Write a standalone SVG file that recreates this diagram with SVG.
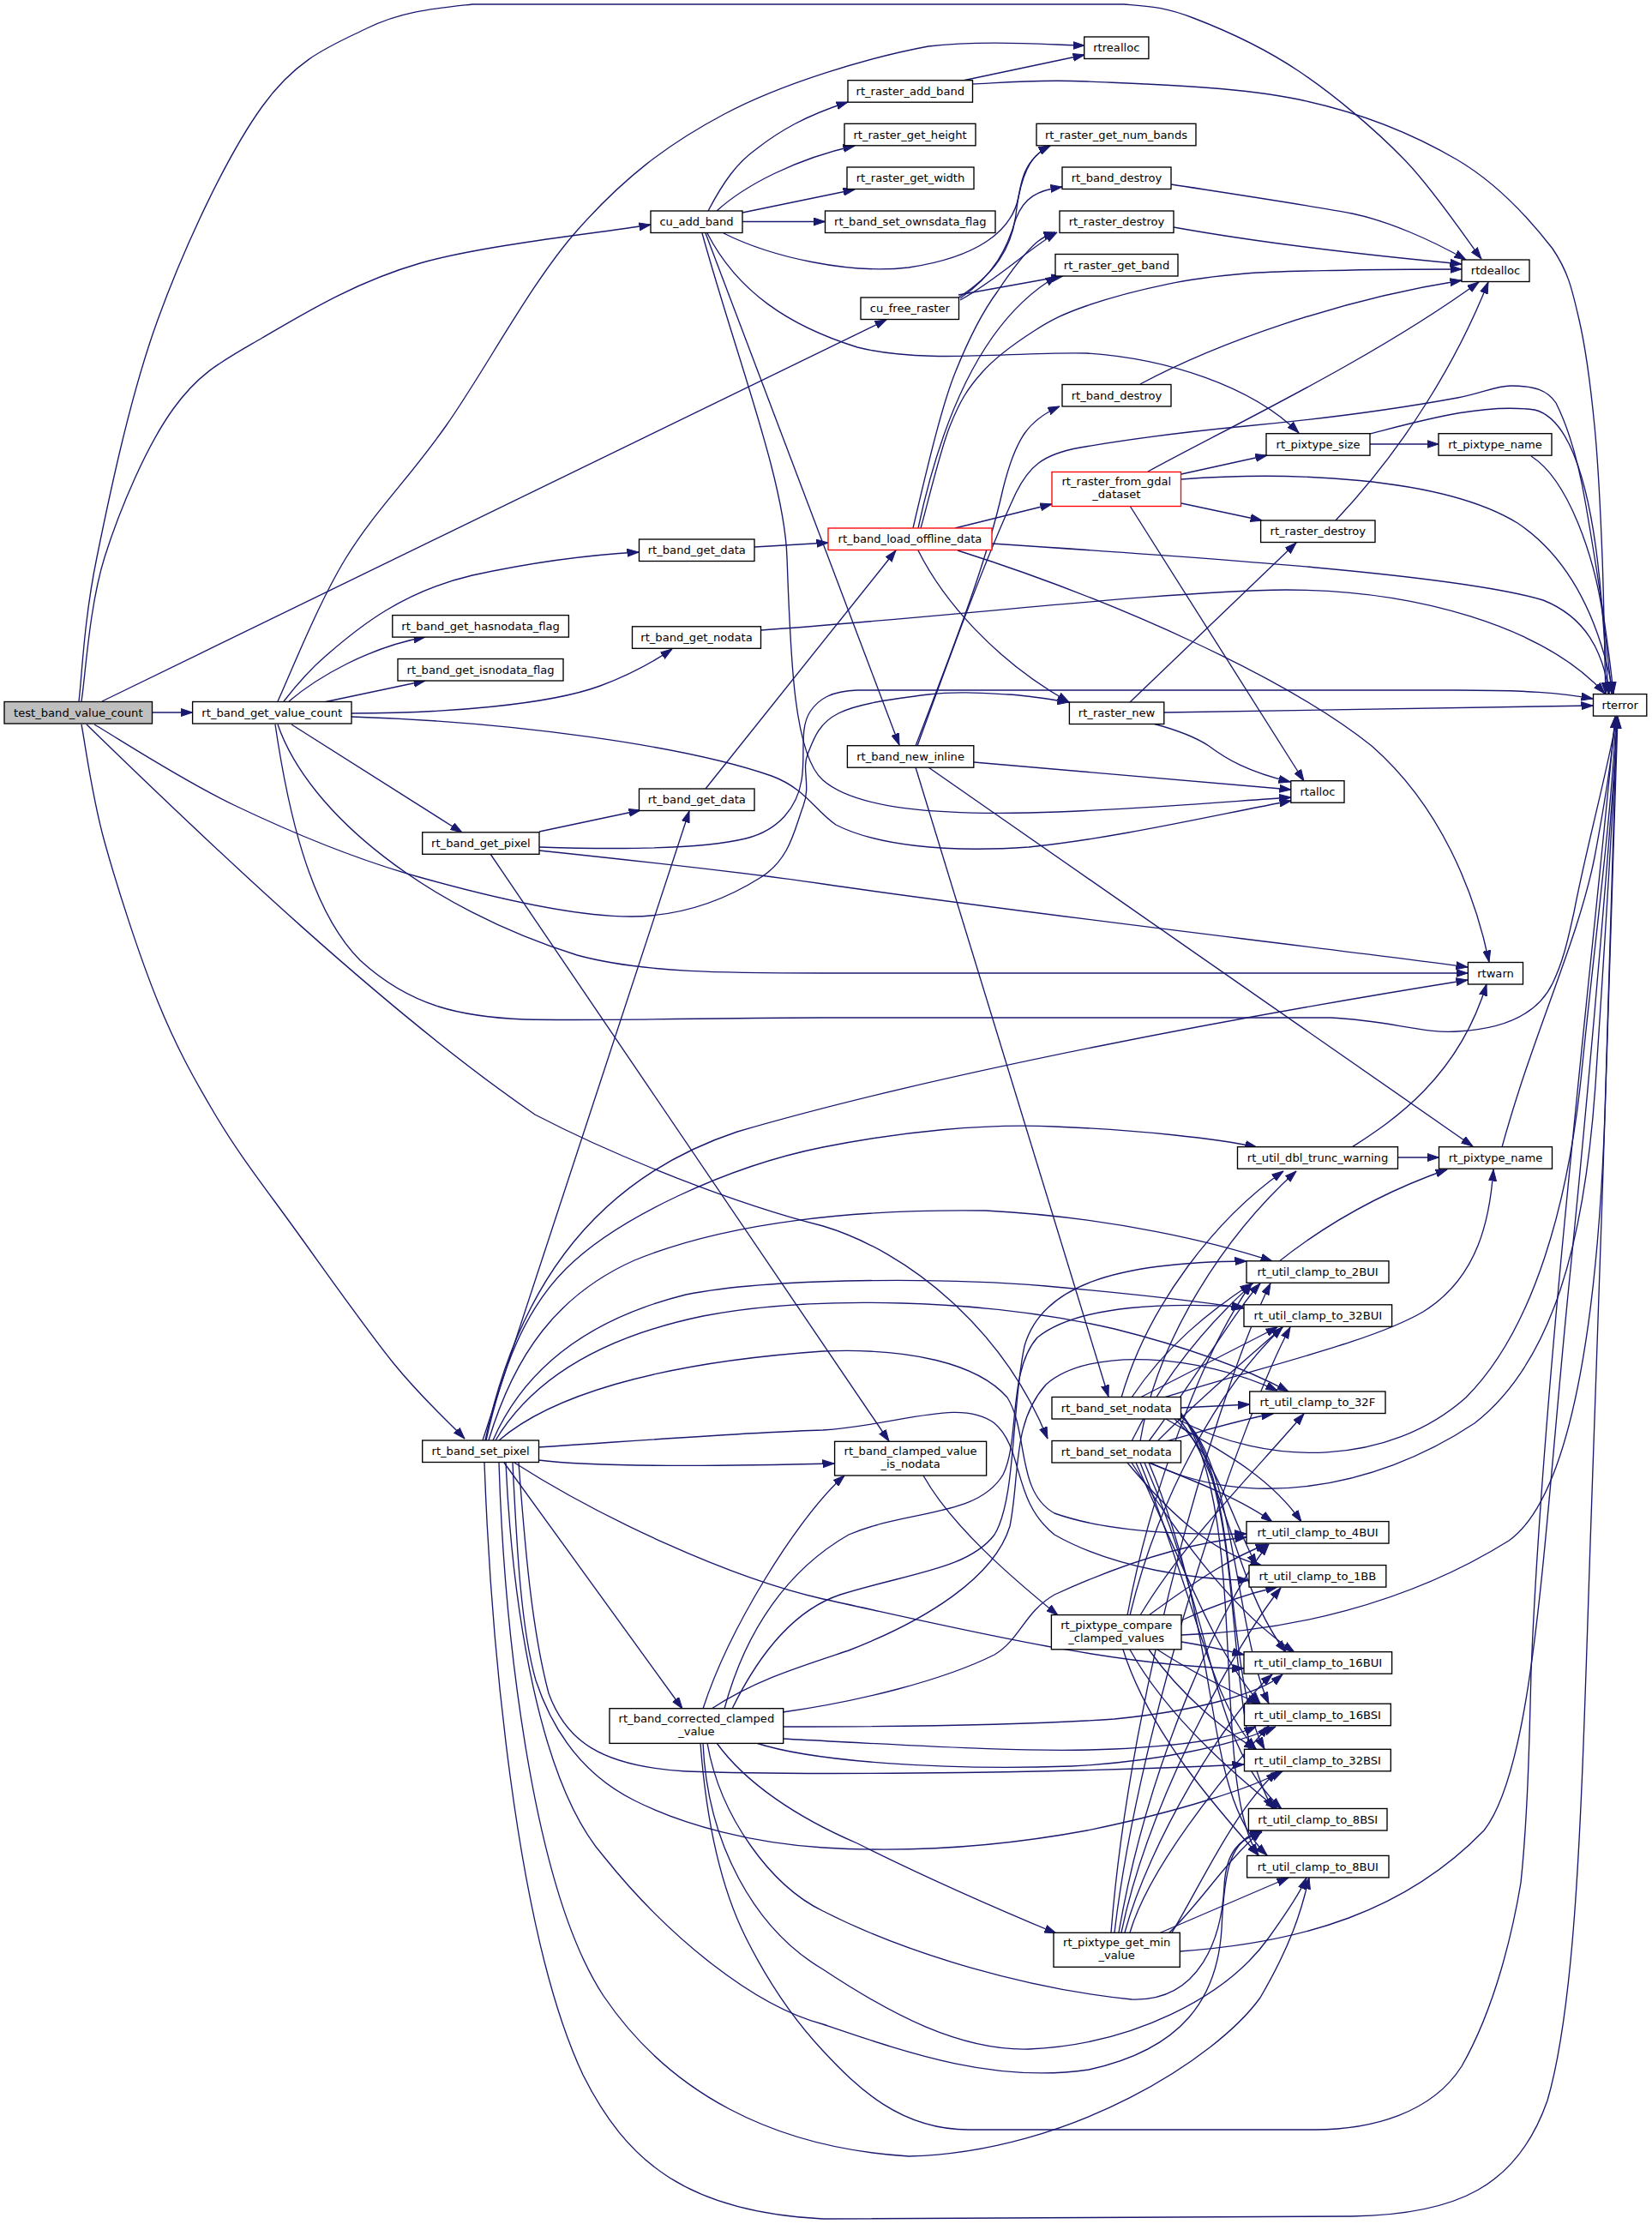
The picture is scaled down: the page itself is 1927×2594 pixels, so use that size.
<svg xmlns="http://www.w3.org/2000/svg" width="1927" height="2594" viewBox="0 0 1927 2594">
<style>
.n rect { fill:#ffffff; stroke:#000000; stroke-width:1.35; }
.n text { font-family:"DejaVu Sans","Liberation Sans",sans-serif; font-size:13.1px; text-anchor:middle; fill:#000000; }
.red rect { stroke:#ff0000; }
.root rect { fill:#bfbfbf; }
.e path { fill:none; stroke:#191970; stroke-width:1.35; marker-end:url(#arr); }
</style>
<defs>
<marker id="arr" markerUnits="userSpaceOnUse" markerWidth="14" markerHeight="10" viewBox="0 0 14 10" refX="13.5" refY="5" orient="auto">
<path d="M0,0.5 L13.5,5 L0,9.5 Z" fill="#191970" stroke="#191970" stroke-width="1"/>
</marker>
</defs>
<rect x="0" y="0" width="1927" height="2594" fill="#ffffff"/>
<g id="connectors" class="e">
<path d="M92,818 C95.5,790 97.7,724 113,650 C128,576 152,461 184,373 C216,285 265,181 306,124 C347,67 387,53 428,33 C469,13 506,10 551,5 L1311,5 C1343,7.7 1358,8 1392,21 C1426,34 1474,55.5 1515,83 C1556,110.5 1602.5,149.5 1638,186 C1673.5,222.5 1713,282.7 1728,302"/>
<path d="M95,818 C99.5,790 104,707 122,650 C140,593 171,520 202,477 C233,434 258,422 306,394 C354,366 414,329 490,307 C566,285 714,270 759,262"/>
<path d="M119,818 L1034,373"/>
<path d="M177.5,831 L224.6,831"/>
<path d="M95,845 C99.5,868 107,928 122,982 C137,1036 162.5,1115 184,1168 C205.5,1221 225.5,1257 251,1300 C276.5,1343 302,1376 337,1424 C372,1472 425,1548 459,1590 C493,1632 528,1663 542,1678"/>
<path d="M110,845 C137.5,861 212,910 275,940 C338,970 412,1001.5 489,1023 C566,1044.5 668.5,1069 735,1069 C801.5,1069 854,1044.5 888,1023 C922,1001.5 927,966 937,940 C946,916 935,898 942,880 C949,862 954.5,844 978,832 C1001.5,820 1050,814 1083,810 C1116,806 1149,808.5 1176,810 C1203,811.5 1235,817.5 1247,819"/>
<path d="M101,845 C250,990 450,1180 624,1300 C720,1350 860,1405 960,1430 C1060,1460 1170,1550 1222,1678"/>
<path d="M324,818 C337,790 371,703.5 404,650 C437,596.5 475,560.5 520,497 C565,433.5 619,330 673,269 C727,208 777,169 845,133 C913,97 1013,67 1083,54 C1150,46 1235,53 1265,53"/>
<path d="M331,818 C345,800 360,782 380,765 C420,730 470,690 551,671 C620,656 690,647 745,644"/>
<path d="M337,818 C370,790 430,755 496,743"/>
<path d="M380,818.5 L496,794"/>
<path d="M410,832 C520,832 640,822 700,800 C740,785 765,770 784,757"/>
<path d="M410,836 C600,842 800,870 900,905 C940,920 950,945 975,962 C1020,985 1100,995 1200,988 C1300,978 1420,950 1506,934"/>
<path d="M340,845 L539,971"/>
<path d="M324,845 C360,950 500,1060 673,1114 C750,1135 850,1135 960,1135 L1712,1135"/>
<path d="M321,845 C335,940 360,1060 420,1120 C480,1175 540,1186 612,1189 C700,1191 850,1187 960,1187 L1552,1187 C1620,1190 1660,1206 1700,1203 C1760,1200 1795,1180 1811,1147 C1825,1118 1830,1090 1836,1064 C1850,990 1875,900 1886,836"/>
<path d="M826,246 C845,210 860,190 882,174 C910,152 940,135 989,119"/>
<path d="M836,246 C870,215 930,185 997,170"/>
<path d="M866,248 L997,221"/>
<path d="M866,258.5 L962.5,258.5"/>
<path d="M844,272 C900,300 990,320 1060,312 C1140,300 1180,270 1188,230 C1195,195 1205,180 1225,170"/>
<path d="M825,272 C860,340 920,380 1000,405 C1080,425 1180,410 1268,412 C1360,418 1460,450 1515,505"/>
<path d="M823,272 L1049,869"/>
<path d="M819,272 C860,420 915,560 918,650 C922,760 925,880 960,910 C1000,945 1100,950 1200,948 C1320,945 1430,935 1506,930"/>
<path d="M1118,347 C1160,320 1180,290 1185,250 C1190,210 1195,185 1225,170"/>
<path d="M1120,348 C1160,320 1175,290 1185,255 C1195,230 1210,222 1239,218"/>
<path d="M1120,350 C1165,325 1200,290 1233,271"/>
<path d="M1118,344 L1240,322"/>
<path d="M1123,94 L1265,64"/>
<path d="M1134,98 C1156,97.5 1204.5,92 1268,95 C1331.5,98 1443,100.7 1515,116 C1587,131 1650.7,157.5 1700,186.5 C1749,215.5 1787,259 1811,290 C1830,318 1834,339 1842,373 C1850,407.5 1855.5,451 1860,497 C1864.5,543 1867,598 1869,650 C1871,702 1872,782.5 1873,809"/>
<path d="M1366,215 C1450,228 1530,240 1577,249 C1620,258 1670,280 1710,303"/>
<path d="M1369,265 C1480,285 1620,300 1705,308"/>
<path d="M1074,616 C1080,596 1096,527 1108,497 C1120,467 1128.5,453.6 1145,435 C1161.5,416 1186.5,398.6 1207,385.5 C1227.5,372.4 1242,365.5 1268,356.5 C1294,347.5 1330,338 1361,331.6 C1392,325 1417,322 1453,319 C1489,316 1535,316 1577,315 C1619,314 1684,314 1705,314"/>
<path d="M1065,616 C1085,530 1100,470 1114,435 C1130,395 1145,365 1163.5,340 C1180,315 1195,295 1210,282 C1218,276 1224,273 1231,271"/>
<path d="M1071,616 C1100,480 1150,370 1233,322"/>
<path d="M1114,616 L1227,588"/>
<path d="M1157,634 C1400,650 1700,670 1800,700 C1850,720 1870,760 1877,809"/>
<path d="M1117,642 C1300,700 1500,790 1600,870 C1680,940 1720,1040 1737,1122"/>
<path d="M1071,642 C1100,700 1160,770 1247,819"/>
<path d="M880,638 L966,633"/>
<path d="M823,920 L1045,642"/>
<path d="M1378,553 L1478,531"/>
<path d="M1339,550 C1430,500 1600,420 1725,329"/>
<path d="M1378,587 L1472,607"/>
<path d="M1378,559 C1500,550 1680,555 1770,610 C1830,650 1865,720 1882,809"/>
<path d="M1318,590 L1521,911"/>
<path d="M1330,448 C1420,400 1560,350 1705,327"/>
<path d="M1558,607 C1640,520 1700,420 1736,329"/>
<path d="M1598,518 L1678,518"/>
<path d="M1598,506 C1660,490 1730,470 1790,478 C1840,490 1860,600 1868,700 C1872,750 1875,790 1876,809"/>
<path d="M1786,532 C1830,560 1860,650 1870,720 C1875,760 1878,790 1880,809"/>
<path d="M1068,870 C1110,760 1150,660 1170,570 C1185,510 1200,490 1236,474"/>
<path d="M1070,870 C1110,760 1150,650 1185,575 C1200,545 1215,530 1260,522 C1330,510 1390,503 1453,497 C1560,487 1640,475 1700,464 C1730,458 1745,450 1762,450 C1790,450 1805,455 1815,470 C1835,510 1845,560 1850,590 C1862,660 1875,740 1882,809"/>
<path d="M1136,889 L1506,921"/>
<path d="M1083,895 L1718,1337"/>
<path d="M1068,895 L1293,1629"/>
<path d="M1358,831 L1858,823"/>
<path d="M1345,844 C1375,852 1395,860 1410,870 C1430,885 1455,900 1505,912"/>
<path d="M1318,819 L1512,633"/>
<path d="M888,735 C1100,720 1350,690 1500,688 C1650,688 1800,730 1872,809"/>
<path d="M629,970 L747,945"/>
<path d="M629,988 C720,991 820,990 870,978 C910,968 930,940 935,910 C940,880 932,850 945,830 C955,815 970,806 1000,805 L1700,805 C1780,805 1820,808 1858,815"/>
<path d="M629,992 C800,1010 900,1022 960,1031 C1200,1066 1500,1100 1712,1128"/>
<path d="M572,996 L1037,1681"/>
<path d="M563,1680 L804,946"/>
<path d="M566,1680 C600,1520 680,1380 860,1320 C1100,1250 1450,1185 1712,1143"/>
<path d="M567,1680 C585,1600 610,1530 660,1480 C720,1420 850,1360 960,1338 C1050,1320 1150,1310 1230,1314 C1330,1318 1420,1328 1466,1338"/>
<path d="M570,1680 C600,1580 650,1510 740,1470 C850,1425 1000,1410 1150,1412 C1300,1420 1420,1450 1484,1471"/>
<path d="M575,1680 C610,1600 680,1540 800,1510 C900,1490 1100,1490 1220,1500 C1330,1510 1400,1518 1451,1526"/>
<path d="M578,1680 C620,1610 700,1560 820,1535 C950,1510 1150,1515 1300,1550 C1400,1575 1460,1600 1503,1623"/>
<path d="M582,1680 C640,1630 760,1590 960,1576 C1060,1572 1140,1590 1175,1630 C1200,1670 1185,1740 1230,1765 C1300,1790 1400,1790 1454,1789"/>
<path d="M628,1688 C750,1680 880,1670 960,1668 C1050,1662 1120,1630 1160,1660 C1195,1690 1180,1750 1230,1790 C1300,1830 1400,1843 1457,1843"/>
<path d="M628,1703 C700,1712 850,1710 973,1707"/>
<path d="M600,1706 C700,1770 850,1840 960,1865 C1100,1895 1300,1945 1451,1946"/>
<path d="M588,1706 L796,1993"/>
<path d="M605,1706 C612,1800 620,1900 640,1975 C660,2030 700,2060 800,2066 C900,2070 1200,2070 1451,2058"/>
<path d="M598,1706 C603,1810 608,1900 625,1960 C645,2020 680,2070 740,2100 C800,2130 880,2150 960,2155 C1060,2161 1160,2155 1268,2135 C1380,2112 1460,2085 1496,2066"/>
<path d="M590,1706 C598,1880 630,2080 704,2165 C780,2260 880,2340 960,2361 C1060,2395 1160,2430 1270,2414 C1380,2390 1420,2330 1425,2250 C1428,2180 1435,2145 1472,2135"/>
<path d="M582,1706 C588,1900 620,2200 704,2328 C780,2440 900,2505 1060,2515 C1250,2510 1420,2400 1470,2330 C1505,2270 1518,2230 1527,2190"/>
<path d="M565,1706 C572,1900 600,2250 680,2420 C730,2520 800,2580 960,2588 L1577,2585 C1700,2583 1770,2550 1805,2450 C1840,2330 1845,2100 1855,1800 C1865,1500 1880,1100 1887,836"/>
<path d="M820,1993 C850,1900 930,1770 985,1721"/>
<path d="M854,1993 C880,1940 920,1880 980,1860 C1060,1835 1130,1830 1160,1790 C1185,1750 1180,1640 1195,1570 C1215,1500 1300,1472 1454,1471"/>
<path d="M845,1993 C870,1900 920,1830 990,1790 C1060,1760 1140,1770 1170,1720 C1190,1680 1175,1600 1210,1560 C1260,1520 1370,1520 1450,1524"/>
<path d="M830,1993 C880,1960 930,1945 990,1925 C1080,1890 1160,1840 1178,1780 C1190,1720 1180,1660 1220,1615 C1270,1570 1400,1580 1490,1622"/>
<path d="M913,1997 C1000,1985 1100,1960 1160,1930 C1190,1912 1195,1880 1230,1860 C1300,1828 1380,1800 1454,1793"/>
<path d="M913,2014 C1050,2014 1200,2012 1300,2005 C1400,1995 1470,1975 1496,1953"/>
<path d="M913,2028 C1050,2035 1200,2045 1300,2040 C1400,2035 1440,2025 1465,2014"/>
<path d="M882,2033 C950,2055 1100,2065 1250,2060 C1350,2055 1440,2035 1488,2014"/>
<path d="M836,2033 C870,2080 930,2120 1000,2150 C1080,2190 1160,2225 1232,2255"/>
<path d="M825,2033 C840,2120 900,2200 960,2229 C1060,2280 1200,2320 1320,2332 C1400,2335 1425,2260 1428,2200 C1430,2160 1445,2145 1472,2137"/>
<path d="M820,2033 C825,2150 880,2250 960,2297 C1040,2350 1120,2392 1200,2390 C1320,2385 1430,2330 1480,2260 C1505,2225 1518,2205 1524,2190"/>
<path d="M817,2033 C822,2100 835,2190 870,2260 C900,2320 930,2360 960,2392 C1000,2435 1050,2484 1130,2484 L1533,2484 C1600,2484 1670,2465 1705,2410 C1745,2340 1765,2250 1774,2196 C1782,2120 1784,2030 1786,1950 C1800,1600 1860,1100 1884,836"/>
<path d="M1077,1721 C1110,1780 1180,1840 1234,1884"/>
<path d="M1577,1338 C1620,1310 1700,1260 1734,1148"/>
<path d="M1630.5,1350 L1678.5,1350"/>
<path d="M1752,1338 C1790,1200 1840,1100 1860,1000 C1875,920 1882,870 1884,836"/>
<path d="M1308,1630 C1340,1520 1420,1420 1497,1366"/>
<path d="M1358,1630 C1480,1592 1600,1565 1660,1530 C1725,1490 1738,1420 1742,1364"/>
<path d="M1320,1630 C1360,1570 1410,1530 1460,1497"/>
<path d="M1330,1630 L1490,1548"/>
<path d="M1377.5,1642 L1457.7,1638"/>
<path d="M1360,1655 C1420,1690 1480,1720 1518,1775"/>
<path d="M1370,1655 C1420,1700 1440,1780 1466,1826"/>
<path d="M1375,1655 C1430,1720 1440,1850 1500,1927"/>
<path d="M1377,1652 C1440,1700 1440,1900 1480,1987"/>
<path d="M1377,1650 C1450,1720 1425,1950 1475,2040"/>
<path d="M1377,1648 C1460,1750 1420,2000 1485,2110"/>
<path d="M1376,1646 C1460,1760 1410,2080 1468,2164"/>
<path d="M1373,1655 C1480,1712 1620,1710 1710,1630 C1790,1550 1830,1400 1845,1250 C1860,1100 1880,950 1885,836"/>
<path d="M1330,1681 C1350,1560 1430,1440 1512,1366"/>
<path d="M1320,1681 C1380,1560 1500,1430 1688,1364"/>
<path d="M1340,1681 C1400,1600 1440,1530 1470,1497"/>
<path d="M1350,1681 C1400,1630 1460,1580 1496,1548"/>
<path d="M1360,1681 C1400,1670 1450,1655 1485,1649"/>
<path d="M1340,1706 C1400,1730 1450,1750 1484,1775"/>
<path d="M1315,1706 C1360,1760 1410,1810 1472,1826"/>
<path d="M1320,1706 C1380,1800 1440,1880 1510,1927"/>
<path d="M1325,1706 C1390,1850 1420,1930 1470,1987"/>
<path d="M1330,1706 C1400,1880 1410,1980 1465,2040"/>
<path d="M1335,1706 C1420,1900 1410,2030 1495,2110"/>
<path d="M1340,1706 C1430,1920 1400,2090 1478,2164"/>
<path d="M1342,1706 C1450,1760 1600,1740 1720,1660 C1810,1590 1850,1450 1862,1250 C1872,1100 1882,950 1886,836"/>
<path d="M1315,1884 C1340,1750 1400,1580 1460,1497"/>
<path d="M1318,1884 C1350,1750 1420,1620 1496,1548"/>
<path d="M1330,1884 C1380,1800 1460,1720 1521,1649"/>
<path d="M1340,1884 C1400,1840 1440,1815 1478,1801"/>
<path d="M1378,1890 C1410,1875 1450,1860 1490,1851"/>
<path d="M1378,1915 C1410,1920 1430,1925 1451,1930"/>
<path d="M1350,1924 C1390,1950 1430,1970 1468,1987"/>
<path d="M1340,1924 C1380,1980 1430,2020 1465,2040"/>
<path d="M1318,1924 C1360,2000 1440,2070 1490,2110"/>
<path d="M1310,1924 C1340,2020 1420,2110 1468,2164"/>
<path d="M1378,1907 C1500,1903 1640,1872 1760,1797 C1840,1740 1865,1500 1872,1300 C1878,1100 1884,950 1886,836"/>
<path d="M1354,2254 L1503,2190"/>
<path d="M1364,2254 C1400,2220 1430,2170 1472,2135"/>
<path d="M1367,2254 C1400,2200 1440,2110 1490,2066"/>
<path d="M1318,2254 C1340,2180 1420,2080 1480,2013"/>
<path d="M1312,2254 C1340,2150 1430,2000 1484,1953"/>
<path d="M1308,2254 C1340,2100 1440,1920 1494,1852"/>
<path d="M1305,2254 C1340,2050 1430,1860 1480,1801"/>
<path d="M1300,2254 C1330,2000 1450,1650 1505,1548"/>
<path d="M1296,2254 C1320,1950 1430,1600 1482,1497"/>
<path d="M1376,2276 C1520,2266 1640,2229 1731,2135 C1790,2060 1800,1800 1830,1500 C1860,1200 1880,950 1887,836"/>
</g>
<g id="node_test_band_value_count" class="n root"><rect x="5" y="818.5" width="172.5" height="25.5"/><text x="91.3" y="835.8">test_band_value_count</text></g>
<g id="node_rt_band_get_value_count" class="n"><rect x="224.6" y="818.5" width="185.4" height="25.5"/><text x="317.3" y="835.8">rt_band_get_value_count</text></g>
<g id="node_rt_band_get_hasnodata_flag" class="n"><rect x="457.8" y="717.6" width="205.6" height="25.5"/><text x="560.6" y="734.9">rt_band_get_hasnodata_flag</text></g>
<g id="node_rt_band_get_isnodata_flag" class="n"><rect x="464" y="768.5" width="193" height="25.5"/><text x="560.5" y="785.8">rt_band_get_isnodata_flag</text></g>
<g id="node_rt_band_get_pixel" class="n"><rect x="492.7" y="970.8" width="136.3" height="25.5"/><text x="560.9" y="988.1">rt_band_get_pixel</text></g>
<g id="node_rt_band_set_pixel" class="n"><rect x="492.7" y="1680" width="135.8" height="25.5"/><text x="560.6" y="1697.3">rt_band_set_pixel</text></g>
<g id="node_cu_add_band" class="n"><rect x="759" y="246" width="107" height="25.5"/><text x="812.5" y="263.3">cu_add_band</text></g>
<g id="node_rt_band_get_nodata" class="n"><rect x="737.5" y="730.8" width="150" height="25.5"/><text x="812.5" y="748.1">rt_band_get_nodata</text></g>
<g id="node_rt_band_get_data_1" class="n"><rect x="745.5" y="629" width="134.5" height="25.5"/><text x="812.8" y="646.3">rt_band_get_data</text></g>
<g id="node_rt_band_get_data_2" class="n"><rect x="745.5" y="920" width="134.5" height="25.5"/><text x="812.8" y="937.3">rt_band_get_data</text></g>
<g id="node_rt_band_corrected_clamped_value" class="n"><rect x="711" y="1992.7" width="202.7" height="40.7"/><text x="812.4" y="2008.7">rt_band_corrected_clamped</text><text x="812.4" y="2023.7">_value</text></g>
<g id="node_rt_raster_add_band" class="n"><rect x="989" y="93.7" width="145.5" height="25.5"/><text x="1061.8" y="111">rt_raster_add_band</text></g>
<g id="node_rt_raster_get_height" class="n"><rect x="985" y="144.3" width="153" height="25.5"/><text x="1061.5" y="161.6">rt_raster_get_height</text></g>
<g id="node_rt_raster_get_width" class="n"><rect x="988" y="195" width="148" height="25.5"/><text x="1062" y="212.3">rt_raster_get_width</text></g>
<g id="node_rt_band_set_ownsdata_flag" class="n"><rect x="962.5" y="246" width="198.5" height="25.5"/><text x="1061.8" y="263.3">rt_band_set_ownsdata_flag</text></g>
<g id="node_cu_free_raster" class="n"><rect x="1004" y="347" width="114.5" height="25.5"/><text x="1061.3" y="364.3">cu_free_raster</text></g>
<g id="node_rt_band_load_offline_data" class="n red"><rect x="966" y="616" width="191" height="25.5"/><text x="1061.5" y="633.3">rt_band_load_offline_data</text></g>
<g id="node_rt_band_new_inline" class="n"><rect x="988.4" y="869.7" width="147.4" height="25.5"/><text x="1062.1" y="887">rt_band_new_inline</text></g>
<g id="node_rt_band_clamped_value_is_nodata" class="n"><rect x="973.6" y="1681.3" width="177" height="39.7"/><text x="1062.1" y="1697">rt_band_clamped_value</text><text x="1062.1" y="1712">_is_nodata</text></g>
<g id="node_rtrealloc" class="n"><rect x="1264.7" y="43" width="75.2" height="25.5"/><text x="1302.3" y="60.3">rtrealloc</text></g>
<g id="node_rt_raster_get_num_bands" class="n"><rect x="1209" y="144.3" width="186" height="25.5"/><text x="1302" y="161.6">rt_raster_get_num_bands</text></g>
<g id="node_rt_band_destroy_1" class="n"><rect x="1239" y="195" width="127" height="25.5"/><text x="1302.5" y="212.3">rt_band_destroy</text></g>
<g id="node_rt_raster_destroy_1" class="n"><rect x="1236" y="246" width="133" height="25.5"/><text x="1302.5" y="263.3">rt_raster_destroy</text></g>
<g id="node_rt_raster_get_band" class="n"><rect x="1231" y="296.5" width="143" height="25.5"/><text x="1302.5" y="313.8">rt_raster_get_band</text></g>
<g id="node_rt_band_destroy_2" class="n"><rect x="1239" y="448.5" width="127" height="25.5"/><text x="1302.5" y="465.8">rt_band_destroy</text></g>
<g id="node_rt_raster_from_gdal_dataset" class="n red"><rect x="1227" y="550.5" width="150.5" height="40"/><text x="1302.3" y="566.3">rt_raster_from_gdal</text><text x="1302.3" y="581.3">_dataset</text></g>
<g id="node_rt_raster_new" class="n"><rect x="1247.4" y="819" width="110.4" height="25.5"/><text x="1302.6" y="836.3">rt_raster_new</text></g>
<g id="node_rt_band_set_nodata_1" class="n"><rect x="1227" y="1629.5" width="150.5" height="25.5"/><text x="1302.3" y="1646.8">rt_band_set_nodata</text></g>
<g id="node_rt_band_set_nodata_2" class="n"><rect x="1227" y="1680.5" width="150.5" height="25.5"/><text x="1302.3" y="1697.8">rt_band_set_nodata</text></g>
<g id="node_rt_pixtype_compare_clamped_values" class="n"><rect x="1226.4" y="1883.6" width="151.6" height="40.2"/><text x="1302.2" y="1899.5">rt_pixtype_compare</text><text x="1302.2" y="1914.5">_clamped_values</text></g>
<g id="node_rt_pixtype_get_min_value" class="n"><rect x="1229" y="2254.3" width="147.3" height="40"/><text x="1302.7" y="2270">rt_pixtype_get_min</text><text x="1302.7" y="2285">_value</text></g>
<g id="node_rt_pixtype_size" class="n"><rect x="1477" y="505.7" width="121" height="25.5"/><text x="1537.5" y="523">rt_pixtype_size</text></g>
<g id="node_rt_raster_destroy_2" class="n"><rect x="1470.6" y="607" width="133.4" height="25.5"/><text x="1537.3" y="624.3">rt_raster_destroy</text></g>
<g id="node_rtalloc" class="n"><rect x="1505.8" y="910.7" width="62.2" height="25.5"/><text x="1536.9" y="928">rtalloc</text></g>
<g id="node_rt_util_dbl_trunc_warning" class="n"><rect x="1443.5" y="1337.7" width="187" height="25.5"/><text x="1537" y="1355">rt_util_dbl_trunc_warning</text></g>
<g id="node_rt_util_clamp_to_2BUI" class="n"><rect x="1454" y="1470.8" width="166" height="25.5"/><text x="1537" y="1488.1">rt_util_clamp_to_2BUI</text></g>
<g id="node_rt_util_clamp_to_32BUI" class="n"><rect x="1451" y="1521.8" width="172.6" height="25.5"/><text x="1537.3" y="1539.1">rt_util_clamp_to_32BUI</text></g>
<g id="node_rt_util_clamp_to_32F" class="n"><rect x="1457.7" y="1623" width="158.3" height="25.5"/><text x="1536.9" y="1640.3">rt_util_clamp_to_32F</text></g>
<g id="node_rt_util_clamp_to_4BUI" class="n"><rect x="1454" y="1774.6" width="166" height="25.5"/><text x="1537" y="1791.9">rt_util_clamp_to_4BUI</text></g>
<g id="node_rt_util_clamp_to_1BB" class="n"><rect x="1457" y="1825.6" width="159.8" height="25.5"/><text x="1536.9" y="1842.9">rt_util_clamp_to_1BB</text></g>
<g id="node_rt_util_clamp_to_16BUI" class="n"><rect x="1451" y="1926.7" width="172.6" height="25.5"/><text x="1537.3" y="1944">rt_util_clamp_to_16BUI</text></g>
<g id="node_rt_util_clamp_to_16BSI" class="n"><rect x="1451.5" y="1987.2" width="170.8" height="25.5"/><text x="1536.9" y="2004.5">rt_util_clamp_to_16BSI</text></g>
<g id="node_rt_util_clamp_to_32BSI" class="n"><rect x="1451.5" y="2040.3" width="170.8" height="25.5"/><text x="1536.9" y="2057.6">rt_util_clamp_to_32BSI</text></g>
<g id="node_rt_util_clamp_to_8BSI" class="n"><rect x="1456.4" y="2109.5" width="161.6" height="25.5"/><text x="1537.2" y="2126.8">rt_util_clamp_to_8BSI</text></g>
<g id="node_rt_util_clamp_to_8BUI" class="n"><rect x="1454.6" y="2164.4" width="165.4" height="25.5"/><text x="1537.3" y="2181.7">rt_util_clamp_to_8BUI</text></g>
<g id="node_rtdealloc" class="n"><rect x="1705" y="303" width="79" height="25.5"/><text x="1744.5" y="320.3">rtdealloc</text></g>
<g id="node_rt_pixtype_name_1" class="n"><rect x="1678" y="505.7" width="132" height="25.5"/><text x="1744" y="523">rt_pixtype_name</text></g>
<g id="node_rtwarn" class="n"><rect x="1712.4" y="1122.5" width="64.1" height="25.5"/><text x="1744.5" y="1139.8">rtwarn</text></g>
<g id="node_rt_pixtype_name_2" class="n"><rect x="1678.5" y="1337.7" width="132" height="25.5"/><text x="1744.5" y="1355">rt_pixtype_name</text></g>
<g id="node_rterror" class="n"><rect x="1858.5" y="809.6" width="62.3" height="25.5"/><text x="1889.7" y="826.9">rterror</text></g>
</svg>
